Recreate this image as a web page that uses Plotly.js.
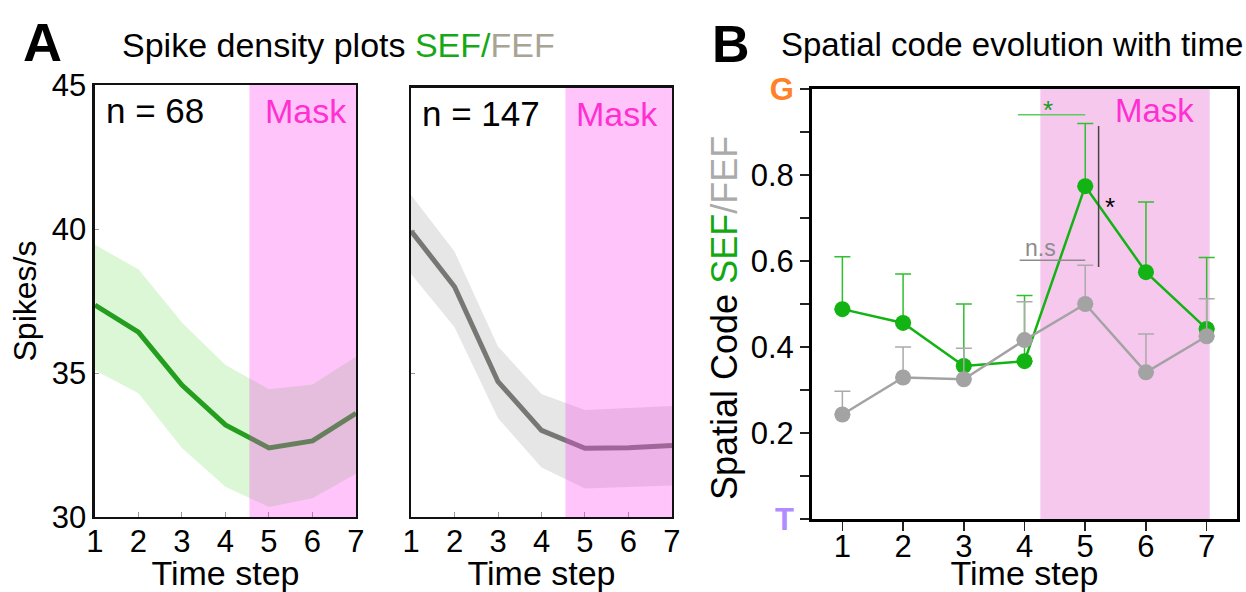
<!DOCTYPE html>
<html>
<head>
<meta charset="utf-8">
<script src="https://cdn.plot.ly/plotly-3.0.1.min.js"></script>
<style>html,body{margin:0;padding:0;background:#fff;}#chart{width:1246px;height:592px;}</style>
</head>
<body>
<div id="chart"></div>
<script>
// ---- data ----
const steps = [1, 2, 3, 4, 5, 6, 7];
const stepLabels = ['1', '2', '3', '4', '5', '6', '7'];
// Panel A: spike density (spikes/s)
const sefRate  = [37.36, 36.42, 34.58, 33.20, 32.40, 32.64, 33.60];
const sefUpper = [39.45, 38.60, 36.75, 35.28, 34.44, 34.60, 35.56];
const sefLower = [35.10, 34.30, 32.40, 31.05, 30.35, 30.65, 31.50];
const fefRate  = [40.00, 38.05, 34.73, 33.03, 32.40, 32.42, 32.50];
const fefUpper = [41.26, 39.28, 35.96, 34.30, 33.74, 33.80, 33.88];
const fefLower = [38.50, 36.63, 33.45, 31.73, 31.00, 31.05, 31.10];
const sefN = 68, fefN = 147;
// Panel B: spatial code (T = 0, G = 1)
const sefCode    = [0.488, 0.456, 0.356, 0.367, 0.774, 0.574, 0.442];
const sefCodeErr = [0.122, 0.114, 0.144, 0.153, 0.146, 0.163, 0.166];
const fefCode    = [0.243, 0.329, 0.325, 0.416, 0.500, 0.341, 0.425];
const fefCodeErr = [0.054, 0.071, 0.072, 0.089, 0.090, 0.089, 0.087];
const codeTicks  = [0, 0.1, 0.2, 0.3, 0.4, 0.5, 0.6, 0.7, 0.8, 0.9, 1.0];
const codeLabels = ['<span style="color:#b08cff"><b>T</b></span>', '', '0.2', '', '0.4', '', '0.6', '', '0.8', '',
                    '<span style="color:#ff8228"><b>G</b></span>'];
const rateTicks = [30, 35, 40, 45];
const maskStartA = 4.55, maskEndA = 7;
const maskStartB = 4.26, maskEndB = 7.05;

// ---- style ----
const FONT = 'Liberation Sans, Arial, sans-serif';
const SEF_DARK = '#259e1f', SEF_BAND = 'rgba(190,240,180,0.55)';
const FEF_DARK = '#777774', FEF_BAND = 'rgba(214,214,214,0.6)';
const SEF_B = '#12b312', FEF_B = '#a3a3a3';

function band(x, up, lo, color, xa, ya) {
  return {
    x: x.concat(x.slice().reverse()),
    y: up.concat(lo.slice().reverse()),
    fill: 'toself', fillcolor: color, line: {width: 0}, mode: 'lines',
    xaxis: xa, yaxis: ya, hoverinfo: 'skip', showlegend: false
  };
}

const traces = [
  band(steps, sefUpper, sefLower, SEF_BAND, 'x', 'y'),
  {x: steps, y: sefRate, mode: 'lines', line: {color: SEF_DARK, width: 5}, xaxis: 'x', yaxis: 'y', showlegend: false},
  band(steps, fefUpper, fefLower, FEF_BAND, 'x2', 'y2'),
  {x: steps, y: fefRate, mode: 'lines', line: {color: FEF_DARK, width: 5}, xaxis: 'x2', yaxis: 'y2', showlegend: false},
  {x: steps, y: sefCode, mode: 'lines+markers', line: {color: SEF_B, width: 2.5},
   marker: {color: SEF_B, size: 16},
   error_y: {type: 'data', array: sefCodeErr, arrayminus: steps.map(() => 0), symmetric: false, color: '#2fbf2f', thickness: 1.5, width: 8},
   xaxis: 'x3', yaxis: 'y3', showlegend: false},
  {x: steps, y: fefCode, mode: 'lines+markers', line: {color: FEF_B, width: 2.5},
   marker: {color: FEF_B, size: 16},
   error_y: {type: 'data', array: fefCodeErr, arrayminus: steps.map(() => 0), symmetric: false, color: '#aaaaaa', thickness: 1.5, width: 8},
   xaxis: 'x3', yaxis: 'y3', showlegend: false}
];

const tf = (s, c) => ({family: FONT, size: s, color: c || '#000'});

const axA = (dom, anchor) => ({
  domain: dom, anchor: anchor, range: [1, 7], tickvals: steps, ticktext: stepLabels,
  showline: true, mirror: true, linecolor: '#111', linewidth: 2.5,
  ticks: 'inside', ticklen: 5, tickcolor: '#999', tickwidth: 1,
  showgrid: false, zeroline: false, tickfont: tf(31), ticklabelstandoff: -5,
  title: {text: 'Time step', font: tf(34), standoff: 0}
});

const layout = {
  width: 1246, height: 592,
  margin: {l: 0, r: 0, t: 0, b: 0},
  paper_bgcolor: '#fff', plot_bgcolor: 'rgba(0,0,0,0)',
  font: {family: FONT, color: '#000'},
  showlegend: false,
  xaxis: axA([0.0762, 0.2857], 'y'),
  yaxis: {domain: [0.1267, 0.8564], anchor: 'x', range: [30, 45], tickvals: rateTicks,
          showline: true, mirror: true, linecolor: '#111', linewidth: 2.5,
          ticks: 'inside', ticklen: 4, tickcolor: '#999', showgrid: false, zeroline: false,
          tickfont: tf(31), title: {text: 'Spikes/s', font: tf(32), standoff: 6}},
  xaxis2: axA([0.3299, 0.5393], 'y2'),
  yaxis2: {domain: [0.1267, 0.8514], anchor: 'x2', range: [30, 45], tickvals: rateTicks, showticklabels: false,
           showline: true, mirror: true, linecolor: '#111', linewidth: 2.5,
           ticks: 'inside', ticklen: 4, tickcolor: '#999', showgrid: false, zeroline: false},
  xaxis3: {domain: [0.6517, 0.9928], anchor: 'y3', range: [0.5, 7.5], tickvals: steps, ticktext: stepLabels,
           showline: true, mirror: true, linecolor: '#000', linewidth: 3,
           ticks: 'outside', ticklen: 9, tickcolor: '#222', tickwidth: 1.5,
           showgrid: false, zeroline: false, tickfont: tf(31), ticklabelstandoff: -11,
           title: {text: 'Time step', font: tf(34), standoff: 0}},
  yaxis3: {domain: [0.1233, 0.8497], anchor: 'x3', range: [0, 1], tickvals: codeTicks, ticktext: codeLabels,
           showline: true, mirror: true, linecolor: '#000', linewidth: 3,
           ticks: 'outside', ticklen: 9, tickcolor: '#222', tickwidth: 1.5,
           showgrid: false, zeroline: false, tickfont: tf(31)},
  shapes: [
    {type: 'rect', xref: 'x', yref: 'y domain', x0: maskStartA, x1: maskEndA, y0: 0, y1: 1,
     fillcolor: 'rgba(255,58,240,0.3)', line: {width: 0}, layer: 'above'},
    {type: 'rect', xref: 'x2', yref: 'y2 domain', x0: maskStartA, x1: maskEndA, y0: 0, y1: 1,
     fillcolor: 'rgba(255,58,240,0.3)', line: {width: 0}, layer: 'above'},
    {type: 'rect', xref: 'x3', yref: 'y3 domain', x0: maskStartB, x1: maskEndB, y0: 0, y1: 1,
     fillcolor: '#f6c8ee', line: {width: 0}, layer: 'below'},
    // significance markers
    {type: 'line', xref: 'x3', yref: 'y3', x0: 3.89, x1: 5.0, y0: 0.94, y1: 0.94, line: {color: '#5ccc5c', width: 1.5}},
    {type: 'line', xref: 'x3', yref: 'y3', x0: 3.92, x1: 5.0, y0: 0.602, y1: 0.602, line: {color: '#8c8c8c', width: 1.5}},
    {type: 'line', xref: 'x3', yref: 'y3', x0: 5.22, x1: 5.22, y0: 0.586, y1: 0.914, line: {color: '#444', width: 1.5}}
  ],
  annotations: [
    {text: '<b>A</b>', xref: 'paper', yref: 'paper', x: 42 / 1246, y: 1 - 42 / 592, xanchor: 'center', yanchor: 'middle', showarrow: false, font: tf(54)},
    {text: 'Spike density plots <span style="color:#16a816">SEF/</span><span style="color:#a8a494">FEF</span>',
     xref: 'paper', yref: 'paper', x: 120 / 1246, y: 1 - 45 / 592, xanchor: 'left', yanchor: 'middle', showarrow: false, font: tf(34)},
    {text: '<b>B</b>', xref: 'paper', yref: 'paper', x: 731 / 1246, y: 1 - 44 / 592, xanchor: 'center', yanchor: 'middle', showarrow: false, font: tf(52)},
    {text: 'Spatial code evolution with time', xref: 'paper', yref: 'paper', x: 779 / 1246, y: 1 - 45 / 592,
     xanchor: 'left', yanchor: 'middle', showarrow: false, font: tf(33)},
    // y-axis title of panel B (placed as rotated text)
    {text: 'Spatial Code <span style="color:#12a812">SEF</span><span style="color:#aaaaaa">/FEF</span>',
     xref: 'paper', yref: 'paper', x: 724 / 1246, y: 1 - 318 / 592, xanchor: 'center', yanchor: 'middle',
     textangle: -90, showarrow: false, font: tf(36)},
    {text: 'n = ' + sefN, xref: 'x domain', yref: 'y domain', x: 0.035, y: 0.94, xanchor: 'left', yanchor: 'middle', showarrow: false, font: tf(35)},
    {text: 'Mask', xref: 'x domain', yref: 'y domain', x: 0.975, y: 0.94, xanchor: 'right', yanchor: 'middle', showarrow: false, font: tf(34, '#ff2fd2')},
    {text: 'n = ' + fefN, xref: 'x2 domain', yref: 'y2 domain', x: 0.035, y: 0.94, xanchor: 'left', yanchor: 'middle', showarrow: false, font: tf(35)},
    {text: 'Mask', xref: 'x2 domain', yref: 'y2 domain', x: 0.955, y: 0.94, xanchor: 'right', yanchor: 'middle', showarrow: false, font: tf(34, '#ff2fd2')},
    {text: 'Mask', xref: 'x3', yref: 'y3 domain', x: 6.14, y: 0.95, xanchor: 'center', yanchor: 'middle', showarrow: false, font: tf(33, '#ff2fd2')},
    {text: '*', xref: 'x3', yref: 'y3', x: 4.38, y: 0.95, xanchor: 'center', yanchor: 'middle', showarrow: false, font: tf(26, '#1a9a1a')},
    {text: 'n.s', xref: 'x3', yref: 'y3', x: 4.27, y: 0.63, xanchor: 'center', yanchor: 'middle', showarrow: false, font: tf(23, '#8c8c8c')},
    {text: '*', xref: 'x3', yref: 'y3', x: 5.4, y: 0.725, xanchor: 'center', yanchor: 'middle', showarrow: false, font: tf(26, '#000')}
  ]
};

Plotly.newPlot('chart', traces, layout, {staticPlot: true, displayModeBar: false});
</script>
</body>
</html>
